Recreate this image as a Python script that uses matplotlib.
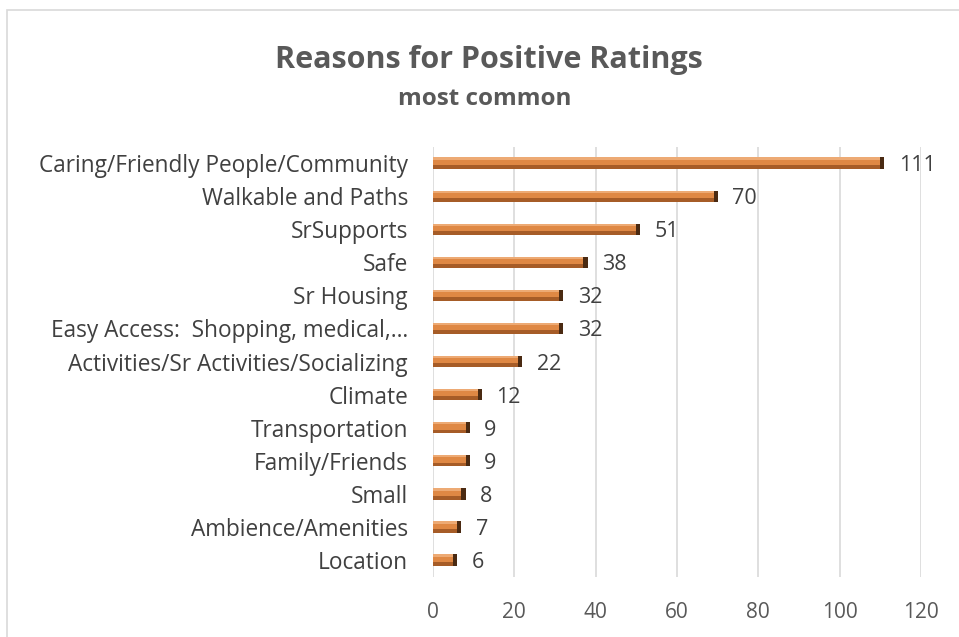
import matplotlib.pyplot as plt
from matplotlib.patches import Rectangle

# Survey answers, most common reasons
reasons = ['Caring/Friendly People/Community', 'Walkable and Paths', 'SrSupports',
           'Safe', 'Sr Housing', 'Easy Access:  Shopping, medical,\u2026',
           'Activities/Sr Activities/Socializing', 'Climate', 'Transportation',
           'Family/Friends', 'Small', 'Ambience/Amenities', 'Location']
counts = [111, 70, 51, 38, 32, 32, 22, 12, 9, 9, 8, 7, 6]
xticks = [0, 20, 40, 60, 80, 100, 120]

plt.rcParams['font.family'] = ['Open Sans', 'DejaVu Sans']

fig = plt.figure(figsize=(9.59, 6.37), dpi=100)
ax = fig.add_axes([0.4515, 0.0948, 0.5089, 0.6752])

# chart frame
fig.patches.append(Rectangle((7 / 959, -0.01), 1.0, 1 - 10 / 637 + 0.01,
                             transform=fig.transFigure, fill=False,
                             edgecolor='#d9d9d9', linewidth=1.2))

pos = list(range(len(reasons)))
h = 0.34
# cylinder-ish bars: orange body, light top, darker underside, dark end cap
ax.barh(pos, counts, height=h, color='#DF8844', zorder=3)
ax.barh([p - h * 0.4 for p in pos], counts, height=h * 0.2, color='#EDAA74', zorder=3)
ax.barh([p + h * 0.33 for p in pos], counts, height=h * 0.34, color='#A65C27', zorder=3)
ax.barh(pos, [1.0] * len(counts), left=[c - 1.0 for c in counts], height=h,
        color='#4A2A12', zorder=4)

for p, c in zip(pos, counts):
    ax.text(c + 3.6, p, str(c), va='center_baseline', ha='left', fontsize=15.5,
            color='#404040')

ax.set_xlim(0, 120)
ax.set_ylim(len(reasons) - 0.5, -0.5)
ax.set_xticks(xticks)
ax.set_yticks(pos)
ax.set_yticklabels(reasons, fontsize=16.3, color='#404040')
ax.tick_params(axis='x', labelsize=15, labelcolor='#595959', length=0, pad=18)
ax.tick_params(axis='y', length=0, pad=18)
ax.grid(axis='x', color='#d9d9d9', linewidth=1.2, zorder=0)
for s in ax.spines.values():
    s.set_visible(False)

fig.text(0.51, 0.906, 'Reasons for Positive Ratings', ha='center', va='center',
         fontsize=22, fontweight='bold', color='#595959')
fig.text(0.505, 0.845, 'most common', ha='center', va='center',
         fontsize=17.5, fontweight='bold', color='#595959')

fig.savefig('out.png', dpi=100)
